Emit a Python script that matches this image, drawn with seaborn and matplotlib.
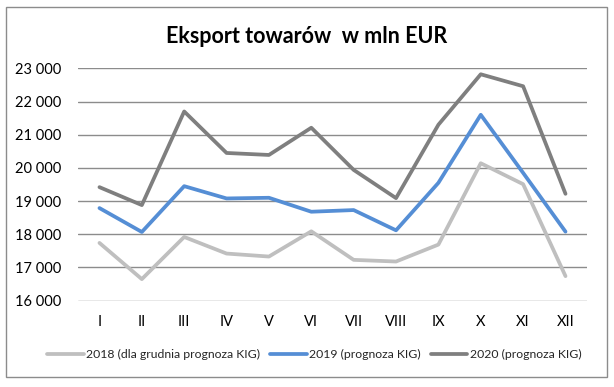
import numpy as np
import pandas as pd
import matplotlib
matplotlib.use("Agg")
import matplotlib.pyplot as plt
import seaborn as sns
from matplotlib.patches import Rectangle
from matplotlib.ticker import FuncFormatter

# Dane (mln EUR)
miesiace = ["I", "II", "III", "IV", "V", "VI", "VII", "VIII", "IX", "X", "XI", "XII"]
eksport_2018 = [17740, 16650, 17920, 17420, 17330, 18090, 17230, 17180, 17690, 20140, 19510, 16740]
eksport_2019 = [18790, 18070, 19450, 19080, 19100, 18680, 18730, 18120, 19550, 21600, 19850, 18080]
eksport_2020 = [19420, 18880, 21700, 20450, 20390, 21210, 19940, 19090, 21300, 22820, 22460, 19220]
serie = ["2018 (dla grudnia prognoza KIG)", "2019 (prognoza KIG)", "2020 (prognoza KIG)"]
kolory = ["#BFBFBF", "#558ED5", "#7F7F7F"]

df = pd.DataFrame({
    "miesiac": miesiace * 3,
    "pozycja": list(range(12)) * 3,
    "wartosc": eksport_2018 + eksport_2019 + eksport_2020,
    "seria": [serie[0]] * 12 + [serie[1]] * 12 + [serie[2]] * 12,
})

sns.set_theme(style="white")
plt.rcParams["font.family"] = ["Lato", "DejaVu Sans"]

fig = plt.figure(figsize=(6.14, 3.87), dpi=100)
ax = fig.add_axes([0.1275, 0.223, 0.828, 0.6005])

sns.lineplot(data=df, x="pozycja", y="wartosc", hue="seria", hue_order=serie,
             palette=kolory, linewidth=2.7, ax=ax, legend=False, zorder=3)

ax.set_xlim(-0.5, 11.5)
ax.set_ylim(16000, 23000)
ax.set_yticks(range(16000, 23001, 1000))
ax.yaxis.set_major_formatter(FuncFormatter(lambda v, p: f"{int(v):,}".replace(",", " ")))
ax.set_xticks(range(12))
ax.set_xticklabels(miesiace)
ax.grid(axis="y", color="#8C8C8C", linewidth=1.0)
ax.grid(axis="x", visible=False)
for s in ax.spines.values():
    s.set_visible(False)
ax.tick_params(axis="y", labelsize=10.5, pad=12, colors="black", length=0)
ax.tick_params(axis="x", labelsize=10.5, pad=10, colors="black", length=0)
ax.set_xlabel("")
ax.set_ylabel("")

fig.text(0.5, 0.905, "Eksport towarów  w mln EUR", ha="center", va="center",
         fontsize=15.5, fontweight="bold", color="black")

# legenda
uchwyty = [plt.Line2D([0], [0], color=c, linewidth=2.7) for c in kolory]
fig.legend(uchwyty, serie, loc="center", bbox_to_anchor=(0.512, 0.083), ncol=3,
           frameon=False, fontsize=8.8, handlelength=3.0, handletextpad=0.2,
           columnspacing=0.8)

# ramka wykresu
fig.patches.append(Rectangle((6 / 614, 1 - 377 / 387), 601 / 614, 370 / 387,
                             transform=fig.transFigure, fill=False,
                             edgecolor="#8C8C8C", linewidth=1.0))

fig.savefig("out.png", dpi=100)
